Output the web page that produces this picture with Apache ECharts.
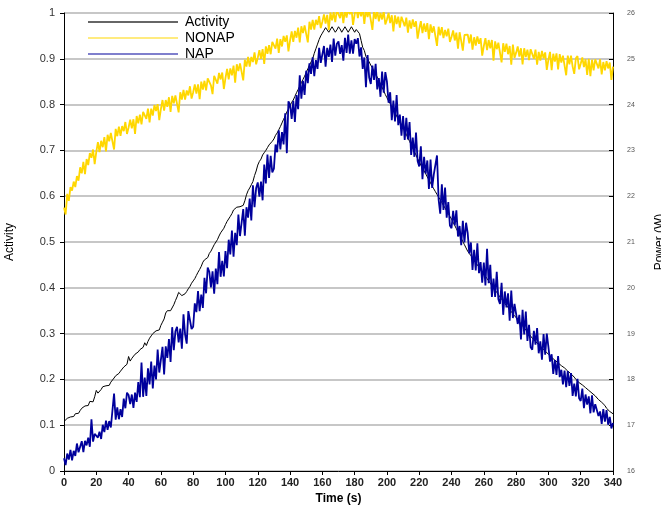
<!DOCTYPE html>
<html>
<head>
<meta charset="utf-8">
<script src="https://cdn.jsdelivr.net/npm/echarts@6/dist/echarts.min.js"></script>
<style>
  html, body { margin: 0; padding: 0; background: #fff; }
  #chart { width: 661px; height: 506px; }
</style>
</head>
<body>
<div id="chart"></div>
<script>
// one sample per second, t = 0..340
const activity = [
  0.108, 0.112, 0.115, 0.113, 0.118, 0.121, 0.119, 0.125, 0.128, 0.126,
  0.132, 0.137, 0.134, 0.142, 0.146, 0.143, 0.152, 0.155, 0.151, 0.162,
  0.176, 0.17, 0.169, 0.178, 0.184, 0.181, 0.186, 0.19, 0.187, 0.194,
  0.197, 0.203, 0.208, 0.206, 0.213, 0.218, 0.22, 0.227, 0.226, 0.233,
  0.25, 0.24, 0.246, 0.25, 0.255, 0.253, 0.26, 0.265, 0.262, 0.27,
  0.28, 0.274, 0.283, 0.29, 0.295, 0.3, 0.297, 0.306, 0.31, 0.308,
  0.318, 0.325, 0.332, 0.345, 0.35, 0.352, 0.35, 0.348, 0.363, 0.372,
  0.38, 0.39, 0.388, 0.383, 0.38, 0.387, 0.392, 0.398, 0.403, 0.41,
  0.415, 0.42, 0.427, 0.434, 0.44, 0.447, 0.456, 0.461, 0.458, 0.466,
  0.475, 0.48, 0.487, 0.494, 0.498, 0.505, 0.513, 0.52, 0.518, 0.53,
  0.538, 0.545, 0.548, 0.556, 0.562, 0.57, 0.574, 0.576, 0.575, 0.577,
  0.578, 0.58, 0.59, 0.603, 0.612, 0.618, 0.625, 0.632, 0.645, 0.655,
  0.668, 0.676, 0.681, 0.69, 0.695, 0.7, 0.706, 0.712, 0.716, 0.72,
  0.725, 0.733, 0.738, 0.745, 0.752, 0.76, 0.768, 0.775, 0.784, 0.79,
  0.798, 0.805, 0.81, 0.818, 0.826, 0.833, 0.84, 0.848, 0.855, 0.862,
  0.87, 0.878, 0.886, 0.893, 0.9, 0.912, 0.922, 0.932, 0.942, 0.95,
  0.956, 0.962, 0.968, 0.966, 0.958, 0.962, 0.97, 0.966, 0.958, 0.963,
  0.97, 0.965, 0.958, 0.962, 0.97, 0.966, 0.958, 0.962, 0.97, 0.966,
  0.958, 0.964, 0.968, 0.955, 0.94, 0.925, 0.918, 0.905, 0.9, 0.893,
  0.886, 0.88, 0.872, 0.866, 0.86, 0.853, 0.845, 0.838, 0.83, 0.822,
  0.815, 0.808, 0.802, 0.795, 0.789, 0.782, 0.775, 0.768, 0.762, 0.756,
  0.75, 0.742, 0.735, 0.727, 0.72, 0.712, 0.705, 0.697, 0.69, 0.682,
  0.675, 0.668, 0.662, 0.655, 0.649, 0.642, 0.636, 0.629, 0.622, 0.616,
  0.61, 0.604, 0.598, 0.592, 0.586, 0.58, 0.574, 0.568, 0.562, 0.556,
  0.55, 0.543, 0.536, 0.529, 0.522, 0.515, 0.508, 0.501, 0.494, 0.487,
  0.48, 0.475, 0.47, 0.465, 0.46, 0.455, 0.45, 0.445, 0.44, 0.435,
  0.43, 0.425, 0.42, 0.415, 0.41, 0.405, 0.4, 0.395, 0.39, 0.385,
  0.38, 0.375, 0.371, 0.366, 0.362, 0.357, 0.353, 0.348, 0.344, 0.339,
  0.335, 0.331, 0.326, 0.322, 0.317, 0.313, 0.308, 0.304, 0.299, 0.295,
  0.29, 0.287, 0.283, 0.28, 0.276, 0.272, 0.269, 0.265, 0.262, 0.258,
  0.255, 0.252, 0.248, 0.246, 0.242, 0.24, 0.236, 0.234, 0.23, 0.228,
  0.225, 0.222, 0.218, 0.216, 0.212, 0.208, 0.205, 0.2, 0.196, 0.193,
  0.19, 0.188, 0.186, 0.182, 0.178, 0.176, 0.173, 0.17, 0.167, 0.164,
  0.162, 0.156, 0.152, 0.15, 0.148, 0.143, 0.137, 0.133, 0.13, 0.127,
  0.125
];

// power in W
const nonap = [
  21.75, 21.6, 22.05, 21.9, 22.2, 22.12, 22.32, 22.2, 22.44, 22.34,
  22.63, 22.5, 22.75, 22.48, 22.81, 22.68, 22.94, 22.84, 23.02, 22.7,
  22.97, 23.18, 22.96, 23.21, 23.07, 23.29, 22.98, 23.34, 23.2, 23.38,
  23.42, 23.02, 23.47, 23.31, 23.52, 23.32, 23.53, 23.42, 23.62, 23.36,
  23.5, 23.67, 23.48, 23.68, 23.36, 23.75, 23.59, 23.78, 23.57, 23.84,
  23.85, 23.69, 23.91, 23.61, 23.91, 23.76, 23.99, 23.86, 24.01, 23.66,
  23.9, 24.1, 23.87, 24.1, 23.95, 24.16, 23.84, 24.19, 24.03, 24.2,
  24.23, 23.83, 24.27, 24.11, 24.32, 24.11, 24.31, 24.2, 24.4, 24.13,
  24.27, 24.44, 24.24, 24.44, 24.12, 24.5, 24.33, 24.52, 24.31, 24.57,
  24.58, 24.42, 24.23, 24.63, 24.62, 24.46, 24.69, 24.55, 24.7, 24.34,
  24.58, 24.78, 24.55, 24.79, 24.64, 24.85, 24.48, 24.88, 24.73, 24.9,
  24.93, 24.53, 24.98, 24.83, 25.04, 24.83, 25.04, 24.93, 25.14, 24.88,
  25.02, 25.19, 25.0, 25.21, 24.89, 25.27, 25.11, 25.3, 25.1, 25.37,
  25.38, 25.22, 25.44, 25.13, 25.43, 25.27, 25.5, 25.37, 25.51, 25.16,
  25.4, 25.6, 25.37, 25.61, 25.46, 25.68, 25.36, 25.71, 25.56, 25.73,
  25.76, 25.36, 25.81, 25.64, 25.85, 25.64, 25.85, 25.74, 25.93, 25.67,
  25.81, 25.97, 25.77, 25.96, 25.63, 26.01, 25.84, 26.02, 25.8, 26.06,
  26.06, 25.89, 26.09, 25.78, 26.07, 25.9, 26.11, 25.97, 26.11, 25.74,
  25.97, 26.14, 25.89, 26.1, 25.93, 26.11, 25.76, 26.09, 25.91, 26.06,
  26.06, 25.63, 26.06, 25.87, 26.05, 25.82, 26.0, 25.86, 26.04, 25.75,
  25.86, 26.0, 25.78, 25.95, 25.6, 25.95, 25.76, 25.92, 25.68, 25.92,
  25.9, 25.71, 25.9, 25.57, 25.84, 25.66, 25.86, 25.7, 25.82, 25.44,
  25.65, 25.82, 25.56, 25.77, 25.59, 25.78, 25.43, 25.75, 25.57, 25.71,
  25.71, 25.28, 25.7, 25.51, 25.69, 25.45, 25.63, 25.49, 25.66, 25.37,
  25.48, 25.62, 25.4, 25.57, 25.22, 25.58, 25.39, 25.18, 25.52, 25.55,
  25.53, 25.34, 25.53, 25.2, 25.47, 25.29, 25.49, 25.33, 25.45, 25.07,
  25.28, 25.45, 25.19, 25.41, 25.23, 25.41, 24.96, 25.38, 25.21, 25.35,
  25.35, 24.92, 25.34, 25.15, 25.33, 25.1, 25.28, 24.87, 25.31, 25.02,
  25.13, 25.27, 25.05, 25.23, 24.88, 25.23, 25.04, 25.2, 24.97, 25.21,
  25.19, 25.0, 25.2, 24.87, 25.15, 24.96, 25.17, 25.01, 25.14, 24.76,
  24.98, 25.15, 24.75, 25.11, 24.94, 25.12, 24.77, 25.1, 24.92, 25.07,
  25.07, 24.64, 25.07, 24.88, 25.07, 24.83, 24.67, 25.01, 25.06, 24.77,
  24.89, 25.03, 24.82, 24.99, 24.65, 25.0, 24.62, 24.98, 24.75, 24.99,
  24.98, 24.79, 24.99, 24.66, 24.93, 24.75, 24.95, 24.79, 24.92, 24.54,
  24.83
];

const nap = [
  16.28, 16.13, 16.38, 16.25, 16.46, 16.23, 16.44, 16.33, 16.6, 16.41,
  16.42, 16.65, 16.41, 16.66, 16.56, 16.73, 16.53, 17.13, 16.64, 16.81,
  16.85, 16.73, 16.86, 16.7, 17.01, 16.85, 17.1, 16.9, 17.09, 16.95,
  16.92, 17.69, 17.12, 17.39, 17.13, 17.35, 17.18, 17.58, 17.37, 17.71,
  17.66, 17.46, 17.67, 17.38, 17.71, 17.51, 17.94, 17.61, 18.37, 17.62,
  18.04, 17.64, 18.24, 17.89, 18.39, 17.8, 18.3, 18.0, 18.65, 18.15,
  18.15, 18.71, 18.11, 18.72, 18.47, 18.88, 18.38, 19.14, 18.64, 19.05,
  19.15, 18.81, 19.11, 18.67, 19.42, 18.98, 18.78, 19.49, 19.49, 19.1,
  19.15, 19.66, 19.47, 19.93, 19.49, 19.85, 19.56, 20.22, 19.88, 20.44,
  20.35, 20.01, 20.36, 19.87, 20.42, 20.08, 20.78, 20.24, 20.59, 20.25,
  20.8, 20.43, 21.05, 20.73, 21.25, 20.68, 21.2, 20.93, 21.6, 21.13,
  21.15, 21.72, 21.14, 21.76, 21.53, 21.95, 21.47, 22.24, 21.76, 22.18,
  22.3, 21.99, 22.32, 21.91, 22.69, 22.28, 22.91, 22.4, 22.88, 22.52,
  22.6, 23.13, 22.96, 23.44, 23.02, 23.4, 23.13, 23.81, 22.94, 24.07,
  24.0, 23.69, 24.08, 23.62, 24.21, 23.9, 24.64, 24.13, 24.52, 24.21,
  24.74, 24.47, 24.9, 24.67, 25.03, 24.62, 24.97, 24.78, 25.24, 24.91,
  24.91, 25.28, 24.83, 25.24, 25.04, 25.31, 24.93, 25.44, 25.07, 25.33,
  25.38, 25.11, 25.3, 24.96, 25.46, 25.13, 25.53, 25.11, 25.4, 25.11,
  25.43, 25.33, 25.45, 25.05, 25.25, 24.78, 25.03, 24.38, 25.08, 24.59,
  24.45, 24.85, 24.54, 24.89, 24.33, 24.58, 24.17, 24.72, 24.26, 24.71,
  24.5, 24.04, 24.27, 23.66, 24.09, 23.63, 24.21, 23.55, 23.78, 23.32,
  23.75, 23.23, 23.71, 23.24, 23.62, 22.9, 23.28, 22.86, 23.39, 22.77,
  22.65, 23.09, 22.37, 22.86, 22.49, 22.78, 22.16, 22.8, 22.18, 22.47,
  22.45, 22.89, 21.93, 21.62, 22.26, 21.7, 22.19, 21.53, 21.87, 21.36,
  21.3, 21.68, 21.36, 21.69, 21.12, 21.35, 20.93, 21.46, 20.99, 21.42,
  21.2, 20.75, 20.99, 20.39, 20.83, 20.38, 20.97, 20.32, 20.56, 20.11,
  20.55, 20.05, 20.85, 20.1, 20.5, 19.8, 20.2, 19.8, 20.35, 19.75,
  19.65, 20.11, 19.41, 19.92, 19.57, 19.88, 19.28, 19.94, 19.34, 19.65,
  19.65, 19.21, 19.41, 18.87, 19.52, 18.98, 19.48, 18.84, 19.19, 18.7,
  18.65, 19.06, 18.76, 19.12, 18.57, 18.83, 18.43, 18.99, 18.54, 19.0,
  18.71, 18.39, 18.55, 18.12, 18.42, 18.1, 18.51, 18.05, 18.21, 17.89,
  18.19, 17.83, 18.18, 17.86, 18.14, 17.64, 17.91, 17.63, 18.01, 17.59,
  17.53, 17.8, 17.37, 17.67, 17.45, 17.63, 17.26, 17.65, 17.28, 17.46,
  17.42, 17.2, 17.3, 17.03, 17.35, 17.08, 17.33, 17.01, 17.18, 16.93,
  17.05
];

function toPairs(values) {
    return values.map(function (v, i) { return [i, v]; });
}

const chart = echarts.init(document.getElementById('chart'));
const font = 'Liberation Sans, Arial, sans-serif';

const option = {
    animation: false,
    textStyle: { fontFamily: font },
    grid: { left: 64, right: 48, top: 13, bottom: 35, containLabel: false, outerBoundsMode: 'none' },
    legend: {
        orient: 'vertical',
        left: 88,
        top: 15,
        padding: 0,
        itemWidth: 90,
        itemHeight: 14,
        itemGap: 2,
        textStyle: { fontSize: 14, color: '#000', fontFamily: font, padding: [0, 0, 0, 2] },
        data: [
            { name: 'Activity', icon: 'path://M0,0H90V2H0Z', itemStyle: { color: '#666' } },
            { name: 'NONAP', icon: 'path://M0,0H90V1.2H0Z', itemStyle: { color: '#ffd700' } },
            { name: 'NAP', icon: 'path://M0,0H90V1.2H0Z', itemStyle: { color: '#00009c' } }
        ]
    },
    xAxis: {
        type: 'value',
        min: 0,
        max: 340,
        interval: 20,
        name: 'Time (s)',
        nameLocation: 'middle',
        nameGap: 22,
        nameTextStyle: { fontSize: 12, fontWeight: 'bold', color: '#000' },
        axisLine: { lineStyle: { color: '#000', width: 1 } },
        axisTick: { length: 4, lineStyle: { color: '#000' } },
        axisLabel: { fontSize: 11, fontWeight: 'bold', color: '#222', margin: 6 },
        splitLine: { show: false }
    },
    yAxis: [{
        type: 'value',
        min: 0,
        max: 1,
        interval: 0.1,
        name: 'Activity',
        nameLocation: 'middle',
        nameGap: 48,
        nameTextStyle: { fontSize: 12, color: '#000' },
        axisLine: { show: true, lineStyle: { color: '#000', width: 1 } },
        axisTick: { show: true, length: 4, lineStyle: { color: '#000' } },
        axisLabel: { fontSize: 11, color: '#333', margin: 9 },
        splitLine: { lineStyle: { color: '#b4b4b4', width: 1.5 } }
    }, {
        type: 'value',
        min: 16,
        max: 26,
        interval: 1,
        name: 'Power (W)',
        nameLocation: 'middle',
        nameGap: 41,
        nameRotate: 90,
        nameTextStyle: { fontSize: 12, color: '#000' },
        axisLine: { show: true, lineStyle: { color: '#000', width: 1 } },
        axisTick: { show: true, inside: true, length: 4, lineStyle: { color: '#000' } },
        axisLabel: { fontSize: 7, color: '#555', margin: 14 },
        splitLine: { show: false }
    }],
    series: [{
        name: 'Activity',
        type: 'line',
        yAxisIndex: 0,
        symbol: 'none',
        lineStyle: { color: '#000', width: 1 },
        itemStyle: { color: '#000' },
        data: toPairs(activity)
    }, {
        name: 'NONAP',
        type: 'line',
        yAxisIndex: 1,
        symbol: 'none',
        lineStyle: { color: '#ffd700', width: 1.8 },
        itemStyle: { color: '#ffd700' },
        data: toPairs(nonap)
    }, {
        name: 'NAP',
        type: 'line',
        yAxisIndex: 1,
        symbol: 'none',
        lineStyle: { color: '#00009c', width: 1.8 },
        itemStyle: { color: '#00009c' },
        data: toPairs(nap)
    }]
};

chart.setOption(option);
</script>
</body>
</html>
